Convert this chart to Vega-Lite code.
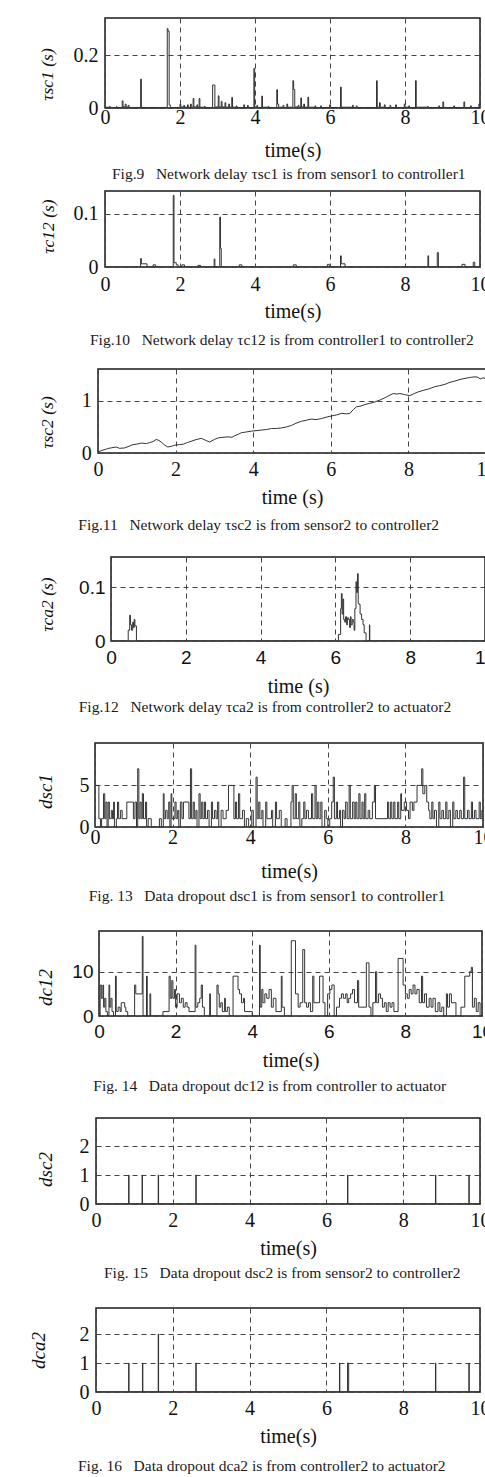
{
"$schema": "https://vega.github.io/schema/vega-lite/v6.json",
"background": "white",
"padding": {"left": 0, "top": 17, "right": 0, "bottom": 0},
"spacing": 0,
"config": {
 "view": {"stroke": "#1a1a1a", "strokeWidth": 1.5},
 "axis": {"domain": false, "ticks": false, "tickSize": 0, "grid": true, "gridColor": "#444", "gridDash": [5, 4], "gridWidth": 1, "labelFont": "Liberation Serif", "labelFontSize": 20, "labelColor": "#111", "labelFlush": false, "labelOverlap": false, "labelAngle": 0, "titleFont": "Liberation Serif", "titleFontSize": 20, "titleFontWeight": "normal", "titleColor": "#111"},
 "axisX": {"labelBaseline": "middle", "titleBaseline": "middle"},
 "axisY": {"format": "~r", "titleAngle": 270, "titleAlign": "center", "titleBaseline": "middle", "titleFontStyle": "italic", "titleFontSize": 17.5, "labelBaseline": "middle", "labelAlign": "right"},
 "title": {"font": "Liberation Serif", "fontSize": 15.5, "fontWeight": "normal", "color": "#1a1a1a", "orient": "bottom", "anchor": "start", "frame": "group"},
 "line": {"color": "#333", "strokeWidth": 1}
},
"vconcat": [
{"spacing": 0, "hconcat": [
 {"width": 37, "height": 172, "data": {"values": []}, "mark": {"type": "point", "opacity": 0}, "view": {"stroke": null}},
 {"width": 375, "height": 90,
  "data": {"values": [{"t":0,"v":0.003},{"t":0.12,"v":0.006},{"t":0.14,"v":0.002},{"t":0.3,"v":0.005},{"t":0.32,"v":0.002},{"t":0.46,"v":0.027},{"t":0.48,"v":0.004},{"t":0.54,"v":0.015},{"t":0.56,"v":0.004},{"t":0.62,"v":0.01},{"t":0.64,"v":0.002},{"t":0.95,"v":0.109},{"t":0.97,"v":0.002},{"t":1.66,"v":0.3},{"t":1.68,"v":0.29},{"t":1.7,"v":0.29},{"t":1.71,"v":0.012},{"t":1.74,"v":0.002},{"t":2.0,"v":0.015},{"t":2.02,"v":0.004},{"t":2.1,"v":0.01},{"t":2.12,"v":0.003},{"t":2.2,"v":0.012},{"t":2.22,"v":0.003},{"t":2.28,"v":0.015},{"t":2.3,"v":0.003},{"t":2.35,"v":0.036},{"t":2.37,"v":0.004},{"t":2.45,"v":0.012},{"t":2.47,"v":0.003},{"t":2.51,"v":0.036},{"t":2.53,"v":0.003},{"t":2.65,"v":0.006},{"t":2.67,"v":0.002},{"t":2.87,"v":0.087},{"t":2.92,"v":0.087},{"t":2.93,"v":0.004},{"t":3.02,"v":0.046},{"t":3.04,"v":0.004},{"t":3.1,"v":0.025},{"t":3.12,"v":0.004},{"t":3.2,"v":0.02},{"t":3.22,"v":0.003},{"t":3.3,"v":0.015},{"t":3.32,"v":0.003},{"t":3.38,"v":0.04},{"t":3.4,"v":0.003},{"t":3.5,"v":0.008},{"t":3.52,"v":0.002},{"t":3.7,"v":0.012},{"t":3.72,"v":0.002},{"t":3.8,"v":0.01},{"t":3.82,"v":0.002},{"t":3.97,"v":0.15},{"t":3.99,"v":0.004},{"t":4.05,"v":0.01},{"t":4.07,"v":0.002},{"t":4.18,"v":0.045},{"t":4.2,"v":0.003},{"t":4.35,"v":0.006},{"t":4.37,"v":0.002},{"t":4.58,"v":0.069},{"t":4.6,"v":0.015},{"t":4.63,"v":0.003},{"t":4.75,"v":0.01},{"t":4.77,"v":0.002},{"t":4.85,"v":0.015},{"t":4.87,"v":0.003},{"t":5.01,"v":0.103},{"t":5.03,"v":0.07},{"t":5.06,"v":0.004},{"t":5.15,"v":0.01},{"t":5.17,"v":0.003},{"t":5.22,"v":0.038},{"t":5.24,"v":0.004},{"t":5.3,"v":0.015},{"t":5.32,"v":0.003},{"t":5.41,"v":0.041},{"t":5.43,"v":0.003},{"t":5.6,"v":0.008},{"t":5.62,"v":0.002},{"t":5.75,"v":0.008},{"t":5.77,"v":0.002},{"t":5.99,"v":0.012},{"t":6.01,"v":0.002},{"t":6.28,"v":0.079},{"t":6.3,"v":0.003},{"t":6.6,"v":0.01},{"t":6.62,"v":0.002},{"t":6.7,"v":0.008},{"t":6.72,"v":0.002},{"t":7.24,"v":0.103},{"t":7.26,"v":0.003},{"t":7.32,"v":0.02},{"t":7.34,"v":0.003},{"t":7.45,"v":0.012},{"t":7.47,"v":0.002},{"t":7.6,"v":0.01},{"t":7.62,"v":0.002},{"t":7.75,"v":0.012},{"t":7.77,"v":0.002},{"t":7.98,"v":0.015},{"t":8.0,"v":0.003},{"t":8.1,"v":0.008},{"t":8.12,"v":0.002},{"t":8.28,"v":0.103},{"t":8.3,"v":0.003},{"t":8.6,"v":0.006},{"t":8.62,"v":0.002},{"t":8.9,"v":0.008},{"t":8.92,"v":0.002},{"t":9.01,"v":0.023},{"t":9.03,"v":0.002},{"t":9.3,"v":0.008},{"t":9.32,"v":0.002},{"t":9.57,"v":0.023},{"t":9.59,"v":0.002},{"t":9.75,"v":0.008},{"t":9.77,"v":0.002},{"t":9.97,"v":0.015},{"t":10,"v":0.015}]},
  "mark": {"type": "line", "interpolate": "step-after", "clip": true},
  "encoding": {
   "x": {"field": "t", "type": "quantitative", "scale": {"domain": [0, 10], "nice": false, "zero": false}, "axis": {"values": [0, 2, 4, 6, 8, 10], "title": "time(s)", "labelPadding": 9, "titleY": 42}},
   "y": {"field": "v", "type": "quantitative", "scale": {"domain": [0, 0.34], "nice": false}, "axis": {"values": [0, 0.2], "title": "τsc1 (s)", "titleX": -58, "titleY": 56, "labelPadding": 7}}
  },
  "title": {"text": "Fig.9\u00a0\u00a0\u00a0Network delay τsc1 is from sensor1 to controller1", "dx": 7, "offset": 7}
 }
]},
{"spacing": 0, "hconcat": [
 {"width": 38, "height": 177, "data": {"values": []}, "mark": {"type": "point", "opacity": 0}, "view": {"stroke": null}},
 {"width": 375, "height": 76,
  "data": {"values": [{"t":0,"v":0},{"t":0.95,"v":0.016},{"t":0.97,"v":0.006},{"t":1.12,"v":0},{"t":1.28,"v":0.004},{"t":1.35,"v":0},{"t":1.82,"v":0.135},{"t":1.84,"v":0.008},{"t":1.9,"v":0.004},{"t":1.95,"v":0},{"t":2.05,"v":0.004},{"t":2.12,"v":0},{"t":2.48,"v":0.003},{"t":2.55,"v":0},{"t":2.91,"v":0.015},{"t":2.93,"v":0},{"t":3.06,"v":0.094},{"t":3.08,"v":0.035},{"t":3.1,"v":0},{"t":3.58,"v":0.004},{"t":3.65,"v":0},{"t":5.02,"v":0.004},{"t":5.1,"v":0},{"t":5.93,"v":0.005},{"t":5.98,"v":0},{"t":6.28,"v":0.021},{"t":6.3,"v":0.006},{"t":6.4,"v":0},{"t":8.61,"v":0.021},{"t":8.63,"v":0},{"t":8.86,"v":0.027},{"t":8.89,"v":0},{"t":9.52,"v":0.005},{"t":9.6,"v":0},{"t":9.82,"v":0.009},{"t":9.86,"v":0},{"t":10,"v":0}]},
  "mark": {"type": "line", "interpolate": "step-after", "clip": true},
  "encoding": {
   "x": {"field": "t", "type": "quantitative", "scale": {"domain": [0, 10], "nice": false, "zero": false}, "axis": {"values": [0, 2, 4, 6, 8, 10], "title": "time(s)", "labelPadding": 17, "titleY": 44}},
   "y": {"field": "v", "type": "quantitative", "scale": {"domain": [0, 0.143], "nice": false}, "axis": {"values": [0, 0.1], "title": "τc12 (s)", "titleX": -57, "titleY": 35, "labelPadding": 7}}
  },
  "title": {"text": "Fig.10\u00a0\u00a0\u00a0Network delay τc12 is from controller1 to controller2", "dx": -15, "offset": 12}
 }
]},
{"spacing": 0, "hconcat": [
 {"width": 36.7, "height": 187, "data": {"values": []}, "mark": {"type": "point", "opacity": 0}, "view": {"stroke": null}},
 {"width": 388, "height": 84,
  "data": {"values": [{"t":0,"v":0.02},{"t":0.1,"v":0.05},{"t":0.2,"v":0.07},{"t":0.25,"v":0.085},{"t":0.35,"v":0.1},{"t":0.47,"v":0.115},{"t":0.55,"v":0.09},{"t":0.68,"v":0.096},{"t":0.8,"v":0.13},{"t":0.9,"v":0.16},{"t":1.0,"v":0.17},{"t":1.12,"v":0.19},{"t":1.25,"v":0.18},{"t":1.33,"v":0.2},{"t":1.42,"v":0.22},{"t":1.5,"v":0.26},{"t":1.57,"v":0.24},{"t":1.63,"v":0.21},{"t":1.72,"v":0.15},{"t":1.8,"v":0.115},{"t":1.9,"v":0.13},{"t":1.98,"v":0.15},{"t":2.1,"v":0.16},{"t":2.2,"v":0.17},{"t":2.3,"v":0.2},{"t":2.4,"v":0.225},{"t":2.5,"v":0.25},{"t":2.6,"v":0.27},{"t":2.67,"v":0.28},{"t":2.78,"v":0.24},{"t":2.88,"v":0.21},{"t":3.0,"v":0.26},{"t":3.1,"v":0.29},{"t":3.22,"v":0.3},{"t":3.35,"v":0.31},{"t":3.45,"v":0.3},{"t":3.52,"v":0.33},{"t":3.62,"v":0.36},{"t":3.7,"v":0.39},{"t":3.8,"v":0.4},{"t":3.96,"v":0.42},{"t":4.1,"v":0.43},{"t":4.22,"v":0.44},{"t":4.35,"v":0.45},{"t":4.47,"v":0.47},{"t":4.6,"v":0.47},{"t":4.73,"v":0.48},{"t":4.86,"v":0.5},{"t":4.99,"v":0.53},{"t":5.1,"v":0.57},{"t":5.25,"v":0.61},{"t":5.38,"v":0.63},{"t":5.5,"v":0.65},{"t":5.62,"v":0.64},{"t":5.76,"v":0.66},{"t":5.9,"v":0.69},{"t":6.02,"v":0.71},{"t":6.15,"v":0.73},{"t":6.28,"v":0.76},{"t":6.4,"v":0.75},{"t":6.49,"v":0.76},{"t":6.58,"v":0.83},{"t":6.66,"v":0.885},{"t":6.78,"v":0.9},{"t":6.88,"v":0.93},{"t":7.0,"v":0.95},{"t":7.14,"v":0.98},{"t":7.28,"v":1.02},{"t":7.4,"v":1.06},{"t":7.5,"v":1.1},{"t":7.61,"v":1.14},{"t":7.7,"v":1.13},{"t":7.78,"v":1.14},{"t":7.9,"v":1.12},{"t":8.04,"v":1.1},{"t":8.15,"v":1.14},{"t":8.25,"v":1.17},{"t":8.38,"v":1.2},{"t":8.51,"v":1.225},{"t":8.6,"v":1.25},{"t":8.68,"v":1.27},{"t":8.8,"v":1.29},{"t":8.94,"v":1.315},{"t":9.05,"v":1.35},{"t":9.2,"v":1.38},{"t":9.33,"v":1.41},{"t":9.46,"v":1.43},{"t":9.6,"v":1.45},{"t":9.72,"v":1.46},{"t":9.8,"v":1.45},{"t":9.85,"v":1.42},{"t":9.92,"v":1.44},{"t":10,"v":1.43}]},
  "mark": {"type": "line", "clip": true},
  "encoding": {
   "x": {"field": "t", "type": "quantitative", "scale": {"domain": [0, 10], "nice": false, "zero": false}, "axis": {"values": [0, 2, 4, 6, 8, 10], "title": "time (s)", "labelPadding": 16.7, "titleY": 44.3}},
   "y": {"field": "v", "type": "quantitative", "scale": {"domain": [0, 1.61], "nice": false}, "axis": {"values": [0, 1], "title": "τsc2 (s)", "titleX": -51, "titleY": 53, "labelPadding": 6.7}}
  },
  "title": {"text": "Fig.11\u00a0\u00a0\u00a0Network delay τsc2 is from sensor2 to controller2", "dx": -19.7, "offset": 10.5}
 }
]},
{"spacing": 0, "hconcat": [
 {"width": 36.3, "height": 185, "data": {"values": []}, "mark": {"type": "point", "opacity": 0}, "view": {"stroke": null}},
 {"width": 374, "height": 84,
  "data": {"values": [{"t":0,"v":0},{"t":0.46,"v":0.02},{"t":0.5,"v":0.048},{"t":0.52,"v":0.03},{"t":0.55,"v":0.02},{"t":0.58,"v":0.035},{"t":0.6,"v":0.025},{"t":0.62,"v":0.04},{"t":0.64,"v":0.028},{"t":0.68,"v":0},{"t":6.08,"v":0.012},{"t":6.14,"v":0.06},{"t":6.16,"v":0.088},{"t":6.18,"v":0.05},{"t":6.2,"v":0.078},{"t":6.22,"v":0.04},{"t":6.25,"v":0.035},{"t":6.27,"v":0.045},{"t":6.3,"v":0.03},{"t":6.32,"v":0.043},{"t":6.35,"v":0.04},{"t":6.38,"v":0.025},{"t":6.4,"v":0.045},{"t":6.42,"v":0.03},{"t":6.45,"v":0.04},{"t":6.48,"v":0.035},{"t":6.5,"v":0.02},{"t":6.52,"v":0.06},{"t":6.55,"v":0.11},{"t":6.57,"v":0.09},{"t":6.59,"v":0.125},{"t":6.61,"v":0.07},{"t":6.63,"v":0.068},{"t":6.66,"v":0.05},{"t":6.7,"v":0.04},{"t":6.74,"v":0.03},{"t":6.77,"v":0.015},{"t":6.82,"v":0},{"t":6.91,"v":0.03},{"t":6.92,"v":0},{"t":10,"v":0}]},
  "mark": {"type": "line", "interpolate": "step-after", "clip": true},
  "encoding": {
   "x": {"field": "t", "type": "quantitative", "scale": {"domain": [0, 10], "nice": false, "zero": false}, "axis": {"values": [0, 2, 4, 6, 8, 10], "title": "time (s)", "labelPadding": 16.3, "titleY": 45, "labelFont": "Liberation Sans", "labelFontSize": 19}},
   "y": {"field": "v", "type": "quantitative", "scale": {"domain": [0, 0.156], "nice": false}, "axis": {"values": [0, 0.1], "title": "τca2 (s)", "titleX": -64, "titleY": 47, "labelPadding": 6, "labelFont": "Liberation Sans", "labelFontSize": 19}}
  },
  "title": {"text": "Fig.12\u00a0\u00a0\u00a0Network delay τca2 is from controller2 to actuator2", "dx": -32.3, "offset": 4}
 }
]},
{"spacing": 0, "hconcat": [
 {"width": 34.3, "height": 187, "data": {"values": []}, "mark": {"type": "point", "opacity": 0}, "view": {"stroke": null}},
 {"width": 388, "height": 84,
  "data": {"values": [{"t":0,"v":5},{"t":0.1,"v":1},{"t":0.14,"v":0},{"t":0.17,"v":1},{"t":0.22,"v":4},{"t":0.25,"v":1},{"t":0.28,"v":3},{"t":0.31,"v":0},{"t":0.34,"v":3},{"t":0.37,"v":1},{"t":0.42,"v":2},{"t":0.45,"v":1},{"t":0.48,"v":3},{"t":0.5,"v":0},{"t":0.55,"v":1},{"t":0.58,"v":3},{"t":0.61,"v":1},{"t":0.66,"v":2},{"t":0.7,"v":1},{"t":0.82,"v":3},{"t":0.99,"v":1},{"t":1.03,"v":3},{"t":1.07,"v":0},{"t":1.1,"v":7},{"t":1.13,"v":1},{"t":1.16,"v":3},{"t":1.19,"v":1},{"t":1.22,"v":4},{"t":1.25,"v":1},{"t":1.3,"v":3},{"t":1.33,"v":0},{"t":1.37,"v":1},{"t":1.45,"v":0},{"t":1.66,"v":1},{"t":1.71,"v":0},{"t":1.76,"v":4},{"t":1.78,"v":1},{"t":1.82,"v":2},{"t":1.86,"v":1},{"t":1.9,"v":3},{"t":1.93,"v":0},{"t":1.96,"v":4},{"t":1.98,"v":1},{"t":2.06,"v":3},{"t":2.09,"v":1},{"t":2.13,"v":2},{"t":2.16,"v":0},{"t":2.2,"v":3},{"t":2.24,"v":1},{"t":2.28,"v":3},{"t":2.42,"v":1},{"t":2.46,"v":7},{"t":2.49,"v":1},{"t":2.53,"v":3},{"t":2.56,"v":1},{"t":2.6,"v":2},{"t":2.63,"v":0},{"t":2.68,"v":4},{"t":2.71,"v":1},{"t":2.75,"v":3},{"t":2.78,"v":1},{"t":2.82,"v":3},{"t":2.85,"v":1},{"t":2.9,"v":2},{"t":2.94,"v":0},{"t":3.0,"v":3},{"t":3.03,"v":1},{"t":3.08,"v":2},{"t":3.12,"v":1},{"t":3.16,"v":3},{"t":3.19,"v":0},{"t":3.25,"v":2},{"t":3.3,"v":1},{"t":3.38,"v":2},{"t":3.44,"v":5},{"t":3.58,"v":1},{"t":3.62,"v":3},{"t":3.65,"v":1},{"t":3.7,"v":4},{"t":3.73,"v":1},{"t":3.8,"v":2},{"t":3.85,"v":0},{"t":3.9,"v":1},{"t":3.96,"v":0},{"t":4.04,"v":2},{"t":4.08,"v":0},{"t":4.15,"v":6},{"t":4.18,"v":1},{"t":4.22,"v":3},{"t":4.25,"v":1},{"t":4.3,"v":2},{"t":4.33,"v":0},{"t":4.4,"v":3},{"t":4.43,"v":1},{"t":4.55,"v":2},{"t":4.58,"v":0},{"t":4.65,"v":3},{"t":4.68,"v":1},{"t":4.75,"v":2},{"t":4.8,"v":0},{"t":4.9,"v":1},{"t":4.95,"v":0},{"t":5.05,"v":3},{"t":5.08,"v":5},{"t":5.11,"v":1},{"t":5.16,"v":4},{"t":5.19,"v":1},{"t":5.25,"v":3},{"t":5.28,"v":0},{"t":5.33,"v":1},{"t":5.38,"v":3},{"t":5.41,"v":1},{"t":5.45,"v":2},{"t":5.5,"v":1},{"t":5.58,"v":4},{"t":5.61,"v":1},{"t":5.67,"v":5},{"t":5.7,"v":1},{"t":5.74,"v":3},{"t":5.77,"v":1},{"t":5.82,"v":3},{"t":5.85,"v":0},{"t":5.92,"v":2},{"t":5.96,"v":1},{"t":6.0,"v":0},{"t":6.05,"v":1},{"t":6.1,"v":3},{"t":6.14,"v":6},{"t":6.17,"v":1},{"t":6.22,"v":3},{"t":6.25,"v":1},{"t":6.3,"v":2},{"t":6.33,"v":0},{"t":6.38,"v":2},{"t":6.42,"v":1},{"t":6.46,"v":3},{"t":6.5,"v":1},{"t":6.55,"v":5},{"t":6.58,"v":1},{"t":6.64,"v":3},{"t":6.68,"v":1},{"t":6.72,"v":3},{"t":6.75,"v":1},{"t":6.8,"v":4},{"t":6.83,"v":1},{"t":6.88,"v":3},{"t":6.91,"v":1},{"t":6.95,"v":4},{"t":6.98,"v":1},{"t":7.04,"v":2},{"t":7.08,"v":1},{"t":7.15,"v":3},{"t":7.2,"v":5},{"t":7.23,"v":1},{"t":7.54,"v":3},{"t":7.57,"v":1},{"t":7.62,"v":3},{"t":7.65,"v":1},{"t":7.7,"v":3},{"t":7.73,"v":1},{"t":7.8,"v":3},{"t":7.83,"v":1},{"t":7.88,"v":4},{"t":7.9,"v":2},{"t":7.97,"v":3},{"t":8.03,"v":2},{"t":8.08,"v":1},{"t":8.12,"v":3},{"t":8.18,"v":2},{"t":8.22,"v":3},{"t":8.3,"v":5},{"t":8.42,"v":7},{"t":8.45,"v":4},{"t":8.5,"v":5},{"t":8.55,"v":3},{"t":8.6,"v":2},{"t":8.63,"v":1},{"t":8.68,"v":3},{"t":8.71,"v":1},{"t":8.75,"v":2},{"t":8.8,"v":0},{"t":8.86,"v":3},{"t":8.89,"v":1},{"t":8.94,"v":2},{"t":8.98,"v":1},{"t":9.04,"v":3},{"t":9.07,"v":1},{"t":9.12,"v":2},{"t":9.16,"v":0},{"t":9.22,"v":3},{"t":9.25,"v":1},{"t":9.3,"v":2},{"t":9.34,"v":1},{"t":9.4,"v":2},{"t":9.44,"v":1},{"t":9.5,"v":6},{"t":9.53,"v":1},{"t":9.6,"v":2},{"t":9.64,"v":1},{"t":9.7,"v":3},{"t":9.73,"v":1},{"t":9.78,"v":2},{"t":9.82,"v":1},{"t":9.9,"v":3},{"t":9.93,"v":1},{"t":9.97,"v":2},{"t":10,"v":2}]},
  "mark": {"type": "line", "interpolate": "step-after", "clip": true},
  "encoding": {
   "x": {"field": "t", "type": "quantitative", "scale": {"domain": [0, 10], "nice": false, "zero": false}, "axis": {"values": [0, 2, 4, 6, 8, 10], "title": "time(s)", "labelPadding": 10.7, "titleY": 44.3}},
   "y": {"field": "v", "type": "quantitative", "scale": {"domain": [0, 10.1], "nice": false}, "axis": {"values": [0, 5], "title": "dsc1", "titleX": -50, "titleY": 48, "labelPadding": 6, "titleFontSize": 19}}
  },
  "title": {"text": "Fig. 13\u00a0\u00a0\u00a0Data dropout dsc1 is from sensor1 to controller1", "dx": -6.3, "offset": 7.5}
 }
]},
{"spacing": 0, "hconcat": [
 {"width": 34.7, "height": 186, "data": {"values": []}, "mark": {"type": "point", "opacity": 0}, "view": {"stroke": null}},
 {"width": 383, "height": 85,
  "data": {"values": [{"t":0,"v":0},{"t":0.03,"v":7},{"t":0.06,"v":4},{"t":0.1,"v":7},{"t":0.12,"v":2},{"t":0.15,"v":4},{"t":0.18,"v":1},{"t":0.22,"v":0},{"t":0.26,"v":7},{"t":0.28,"v":2},{"t":0.31,"v":4},{"t":0.34,"v":1},{"t":0.38,"v":0},{"t":0.43,"v":9},{"t":0.45,"v":1},{"t":0.5,"v":2},{"t":0.55,"v":1},{"t":0.58,"v":3},{"t":0.67,"v":2},{"t":0.7,"v":1},{"t":0.75,"v":0},{"t":0.93,"v":7},{"t":0.96,"v":5},{"t":1.13,"v":18},{"t":1.15,"v":0},{"t":1.24,"v":9},{"t":1.26,"v":0},{"t":1.33,"v":5},{"t":1.35,"v":0},{"t":1.67,"v":1},{"t":1.83,"v":9},{"t":1.86,"v":4},{"t":1.9,"v":8},{"t":1.93,"v":4},{"t":1.97,"v":6},{"t":2.0,"v":2},{"t":2.04,"v":5},{"t":2.1,"v":3},{"t":2.15,"v":4},{"t":2.2,"v":2},{"t":2.25,"v":3},{"t":2.3,"v":2},{"t":2.35,"v":1},{"t":2.51,"v":16},{"t":2.53,"v":2},{"t":2.58,"v":3},{"t":2.63,"v":4},{"t":2.67,"v":7},{"t":2.7,"v":2},{"t":2.75,"v":0},{"t":2.89,"v":5},{"t":2.91,"v":0},{"t":3.08,"v":7},{"t":3.11,"v":5},{"t":3.14,"v":2},{"t":3.18,"v":3},{"t":3.22,"v":1},{"t":3.28,"v":4},{"t":3.3,"v":1},{"t":3.35,"v":2},{"t":3.4,"v":0},{"t":3.5,"v":9},{"t":3.63,"v":6},{"t":3.67,"v":5},{"t":3.72,"v":3},{"t":3.77,"v":4},{"t":3.8,"v":1},{"t":4.0,"v":0},{"t":4.19,"v":16},{"t":4.21,"v":2},{"t":4.25,"v":6},{"t":4.28,"v":3},{"t":4.33,"v":5},{"t":4.38,"v":4},{"t":4.44,"v":6},{"t":4.5,"v":2},{"t":4.55,"v":4},{"t":4.62,"v":1},{"t":4.76,"v":9},{"t":4.78,"v":2},{"t":4.84,"v":0},{"t":5.02,"v":17},{"t":5.13,"v":5},{"t":5.2,"v":2},{"t":5.25,"v":3},{"t":5.32,"v":15},{"t":5.37,"v":3},{"t":5.42,"v":2},{"t":5.47,"v":3},{"t":5.52,"v":1},{"t":5.58,"v":9},{"t":5.61,"v":3},{"t":5.76,"v":9},{"t":5.85,"v":3},{"t":5.9,"v":0},{"t":5.97,"v":5},{"t":6.03,"v":6},{"t":6.08,"v":7},{"t":6.14,"v":0},{"t":6.2,"v":2},{"t":6.28,"v":4},{"t":6.33,"v":5},{"t":6.38,"v":4},{"t":6.44,"v":5},{"t":6.48,"v":3},{"t":6.52,"v":4},{"t":6.57,"v":5},{"t":6.62,"v":6},{"t":6.67,"v":3},{"t":6.75,"v":8},{"t":6.78,"v":2},{"t":6.98,"v":12},{"t":7.05,"v":2},{"t":7.1,"v":0},{"t":7.15,"v":3},{"t":7.22,"v":10},{"t":7.25,"v":3},{"t":7.3,"v":5},{"t":7.35,"v":4},{"t":7.4,"v":2},{"t":7.45,"v":3},{"t":7.5,"v":1},{"t":7.55,"v":3},{"t":7.6,"v":2},{"t":7.65,"v":3},{"t":7.7,"v":1},{"t":7.81,"v":13},{"t":7.94,"v":7},{"t":8.0,"v":5},{"t":8.05,"v":4},{"t":8.1,"v":6},{"t":8.15,"v":5},{"t":8.2,"v":7},{"t":8.25,"v":5},{"t":8.3,"v":6},{"t":8.36,"v":3},{"t":8.42,"v":9},{"t":8.45,"v":3},{"t":8.5,"v":5},{"t":8.55,"v":2},{"t":8.62,"v":4},{"t":8.67,"v":2},{"t":8.72,"v":4},{"t":8.78,"v":1},{"t":8.85,"v":3},{"t":8.9,"v":1},{"t":8.95,"v":2},{"t":9.0,"v":0},{"t":9.07,"v":5},{"t":9.1,"v":2},{"t":9.15,"v":5},{"t":9.2,"v":3},{"t":9.32,"v":0},{"t":9.45,"v":2},{"t":9.55,"v":9},{"t":9.68,"v":10},{"t":9.72,"v":11},{"t":9.75,"v":2},{"t":9.8,"v":4},{"t":9.85,"v":1},{"t":9.9,"v":3},{"t":9.95,"v":0},{"t":10,"v":0}]},
  "mark": {"type": "line", "interpolate": "step-after", "clip": true},
  "encoding": {
   "x": {"field": "t", "type": "quantitative", "scale": {"domain": [0, 10], "nice": false, "zero": false}, "axis": {"values": [0, 2, 4, 6, 8, 10], "title": "time(s)", "labelPadding": 15, "titleY": 44.3, "labelFont": "Liberation Sans", "labelFontSize": 19}},
   "y": {"field": "v", "type": "quantitative", "scale": {"domain": [0, 19.2], "nice": false}, "axis": {"values": [0, 10], "title": "dc12", "titleX": -54, "titleY": 56, "labelPadding": 6, "labelFont": "Liberation Sans", "labelFontSize": 19, "titleFontSize": 19}}
  },
  "title": {"text": "Fig. 14\u00a0\u00a0\u00a0Data dropout dc12 is from controller to actuator", "dx": -5.7, "offset": 9}
 }
]},
{"spacing": 0, "hconcat": [
 {"width": 35, "height": 189, "data": {"values": []}, "mark": {"type": "point", "opacity": 0}, "view": {"stroke": null}},
 {"width": 384, "height": 86,
  "data": {"values": [{"t":0,"v":0},{"t":0.85,"v":1},{"t":0.86,"v":0},{"t":1.2,"v":1},{"t":1.21,"v":0},{"t":1.62,"v":1},{"t":1.63,"v":0},{"t":2.6,"v":1},{"t":2.61,"v":0},{"t":6.55,"v":1},{"t":6.56,"v":0},{"t":8.84,"v":1},{"t":8.85,"v":0},{"t":9.71,"v":1},{"t":9.72,"v":0},{"t":10,"v":0}]},
  "mark": {"type": "line", "interpolate": "step-after", "clip": true},
  "encoding": {
   "x": {"field": "t", "type": "quantitative", "scale": {"domain": [0, 10], "nice": false, "zero": false}, "axis": {"values": [0, 2, 4, 6, 8, 10], "title": "time(s)", "labelPadding": 16.3, "titleY": 44.7}},
   "y": {"field": "v", "type": "quantitative", "scale": {"domain": [0, 2.97], "nice": false}, "axis": {"values": [0, 1, 2], "title": "dsc2", "titleX": -51, "titleY": 51, "labelPadding": 7, "titleFontSize": 19}}
  },
  "title": {"text": "Fig. 15\u00a0\u00a0\u00a0Data dropout dsc2 is from sensor2 to controller2", "dx": 8, "offset": 7}
 }
]},
{"spacing": 0, "hconcat": [
 {"width": 28, "height": 165, "data": {"values": []}, "mark": {"type": "point", "opacity": 0}, "view": {"stroke": null}},
 {"width": 384, "height": 84,
  "data": {"values": [{"t":0,"v":0},{"t":0.85,"v":1},{"t":0.86,"v":0},{"t":1.21,"v":1},{"t":1.22,"v":0},{"t":1.62,"v":2},{"t":1.63,"v":0},{"t":2.6,"v":1},{"t":2.61,"v":0},{"t":6.34,"v":1},{"t":6.35,"v":0},{"t":6.55,"v":1},{"t":6.58,"v":0},{"t":8.84,"v":1},{"t":8.85,"v":0},{"t":9.71,"v":1},{"t":9.72,"v":0},{"t":10,"v":0}]},
  "mark": {"type": "line", "interpolate": "step-after", "clip": true},
  "encoding": {
   "x": {"field": "t", "type": "quantitative", "scale": {"domain": [0, 10], "nice": false, "zero": false}, "axis": {"values": [0, 2, 4, 6, 8, 10], "title": "time(s)", "labelPadding": 16.3, "titleY": 44.7}},
   "y": {"field": "v", "type": "quantitative", "scale": {"domain": [0, 2.9], "nice": false}, "axis": {"values": [0, 1, 2], "title": "dca2", "titleX": -58, "titleY": 42, "labelPadding": 7, "titleFontSize": 19}}
  },
  "title": {"text": "Fig. 16\u00a0\u00a0\u00a0Data dropout dca2 is from controller2 to actuator2", "dx": -18, "offset": 12}
 }
]}
]
}
